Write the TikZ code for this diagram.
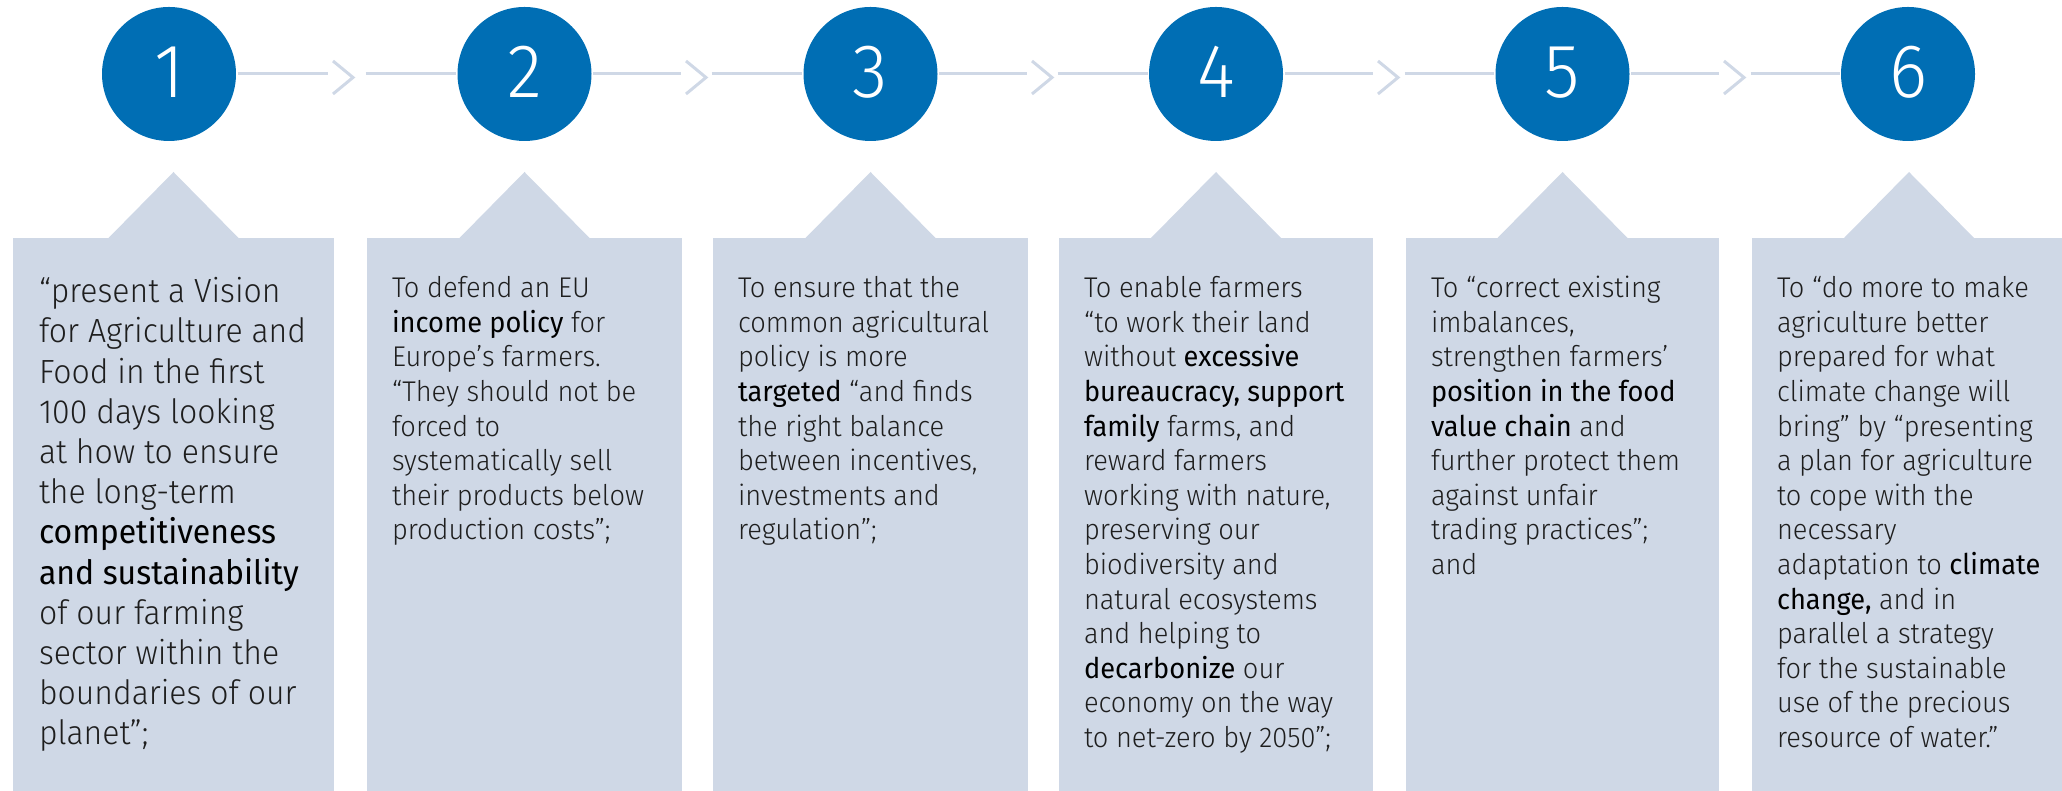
\documentclass[tikz,border=0pt]{standalone}
\usepackage{fontspec}
\setmainfont{Fira Sans}[UprightFont=* Light, BoldFont=*, FakeStretch=0.955]
\usetikzlibrary{positioning,calc}

\definecolor{stepblue}{RGB}{0,110,180}
\definecolor{panelgrey}{RGB}{207,216,230}
\definecolor{textgrey}{RGB}{30,30,30}
\newcommand{\kw}[1]{{\color{black}\bfseries #1}}

\begin{document}
\begin{tikzpicture}
  [
  x=1pt, y=1pt, line width=3pt,
  stepdot/.style={circle, fill=stepblue, minimum size=134pt, inner sep=0pt, text=white, font=\fontsize{76}{76}\selectfont},
  panel/.style={rectangle, fill=panelgrey, minimum height=554pt, inner sep=0pt, anchor=north},
  note/.style={anchor=north west, align=left, inner sep=0pt, text=textgrey, font=\fontsize{28.5}{34.6}\selectfont},
  link/.style={draw=panelgrey}
  ]

\useasboundingbox (0,0) rectangle (2062,791);

\foreach \n/\x/\w in {1/173.5/321,2/524.5/315,3/870.5/315,4/1216/314,5/1562.5/313,6/1909/314} {
  \node[panel, minimum width=\w] (p\n) at (\x,554) {};
  \fill[panelgrey] ([xshift=-65pt,yshift=-1pt]p\n.north) -- ++(65,66) -- ++(65,-66) -- cycle;
}

\foreach \n/\x in {1/169,2/524.5,3/870.5,4/1216,5/1562.5,6/1908} {
  \node[stepdot] (s\n) at (\x,717) {\raisebox{4.5pt}{\n}};
}

\foreach \n/\m/\d in {1/2/-6,2/3/0,3/4/0,4/5/0,5/6/0} {
  \coordinate (g\n) at ($(s\n.east -| p\n.north east)!0.5!(s\m.west -| p\m.north west)$);
  \draw[link] (s\n.east) -- ([xshift={(\d-16.5)*1pt}]g\n);
  \draw[link] (s\m.west -| p\m.north west) -- (s\m.west);
  \draw[link] ([xshift={(\d-11.5)*1pt},yshift=13pt]g\n) -- ([xshift={(\d+8.5)*1pt},yshift=-3.5pt]g\n) -- ([xshift={(\d-11.5)*1pt},yshift=-20pt]g\n);
}

\node[note, font=\fontsize{33.5}{40.2}\selectfont] (t1) at ([xshift=26pt,yshift=-36pt]p1.north west)
  {\strut “present a Vision\\for Agriculture and\\Food in the first\\100 days looking\\at how to ensure\\the long-term\\\kw{competitiveness}\\\kw{and sustainability}\\of our farming\\sector within the\\boundaries of our\\planet”;};

\node[note] (t2) at ([xshift=25pt,yshift=-35pt]p2.north west)
  {\strut To defend an EU\\\kw{income policy} for\\Europe’s farmers.\\“They should not be\\forced to\\systematically sell\\their products below\\production costs”;};

\node[note] (t3) at ([xshift=25pt,yshift=-35pt]p3.north west)
  {\strut To ensure that the\\common agricultural\\policy is more\\\kw{targeted} “and finds\\the right balance\\between incentives,\\investments and\\regulation”;};

\node[note] (t4) at ([xshift=25pt,yshift=-35pt]p4.north west)
  {\strut To enable farmers\\“to work their land\\without \kw{excessive}\\\kw{bureaucracy, support}\\\kw{family} farms, and\\reward farmers\\working with nature,\\preserving our\\biodiversity and\\natural ecosystems\\and helping to\\\kw{decarbonize} our\\economy on the way\\to net-zero by 2050”;};

\node[note] (t5) at ([xshift=25pt,yshift=-35pt]p5.north west)
  {\strut To “correct existing\\imbalances,\\strengthen farmers’\\\kw{position in the food}\\\kw{value chain} and\\further protect them\\against unfair\\trading practices”;\\and};

\node[note] (t6) at ([xshift=25pt,yshift=-35pt]p6.north west)
  {\strut To “do more to make\\agriculture better\\prepared for what\\climate change will\\bring” by “presenting\\a plan for agriculture\\to cope with the\\necessary\\adaptation to \kw{climate}\\\kw{change,} and in\\parallel a strategy\\for the sustainable\\use of the precious\\resource of water.”};

\end{tikzpicture}
\end{document}
